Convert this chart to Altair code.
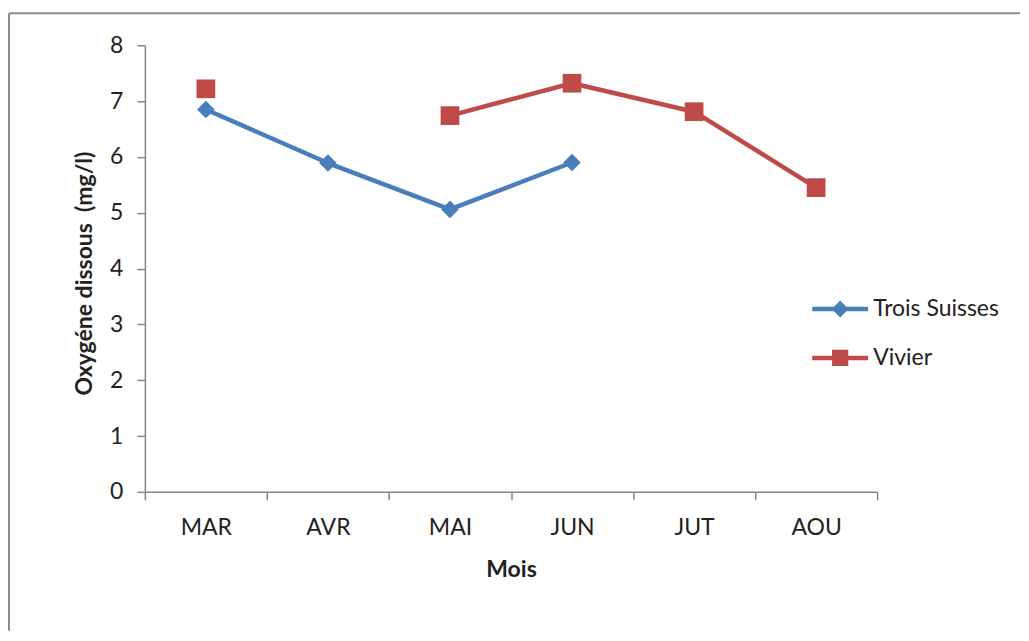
import altair as alt
import pandas as pd

months = ["MAR", "AVR", "MAI", "JUN", "JUT", "AOU"]
trois_suisses = [6.85, 5.89, 5.06, 5.90, None, None]
vivier = [7.22, None, 6.74, 7.32, 6.81, 5.45]
series_names = ["Trois Suisses", "Vivier"]
colors = ["#4A7EBB", "#BE4B48"]

rows = []
for name, vals in zip(series_names, [trois_suisses, vivier]):
    seg = 0
    prev_none = False
    for m, v in zip(months, vals):
        if v is None:
            prev_none = True
            continue
        if prev_none:
            seg += 1
            prev_none = False
        rows.append({"Mois": m, "Valeur": v, "Serie": name, "Segment": f"{name}-{seg}"})
df = pd.DataFrame(rows)

FONT = "Lato"
TXT = "#222222"
GRAY = "#868686"

leg_paths = [
    "M-1,-0.08H1V0.08H-1Z M0,-0.3L0.3,0L0,0.3L-0.3,0Z",
    "M-1,-0.08H1V0.08H-1Z M-0.29,-0.29H0.29V0.29H-0.29Z",
]

legend = alt.Legend(
    orient="none", legendX=668, legendY=236, title=None,
    labelFont=FONT, labelFontSize=23, labelColor=TXT,
    symbolSize=3136, symbolOpacity=1, symbolStrokeWidth=0,
    rowPadding=9, labelOffset=5,
)

color = alt.Color("Serie:N", scale=alt.Scale(domain=series_names, range=colors), legend=legend)

x = alt.X("Mois:N", sort=months,
          scale=alt.Scale(domain=months, paddingInner=0, paddingOuter=0),
          axis=alt.Axis(title="Mois", labelAngle=0, tickBand="extent", tickSize=8,
                        labelPadding=17, titleY=85, titleBaseline="alphabetic"))
y = alt.Y("Valeur:Q", scale=alt.Scale(domain=[0, 8], nice=False),
          axis=alt.Axis(title="Oxygéne dissous \u00a0(mg/l)", values=list(range(0, 9)),
                        tickSize=8, labelPadding=14, grid=False,
                        titleX=-53, titleY=228, titleAngle=-90,
                        titleBaseline="alphabetic", titleAlign="center"))

base = alt.Chart(df)

lines = base.mark_line(strokeWidth=4.5, strokeCap="round", strokeJoin="round").encode(
    x=x, y=y, color=color, detail="Segment:N")

pts_ts = base.transform_filter(alt.datum.Serie == "Trois Suisses").mark_point(
    shape="diamond", filled=True, size=310, opacity=1).encode(x=x, y=y, color=color)
pts_vi = base.transform_filter(alt.datum.Serie == "Vivier").mark_point(
    shape="square", filled=True, size=350, opacity=1).encode(x=x, y=y, color=color)

leg_layer = base.mark_point(filled=True, opacity=0, size=10).encode(
    x=x, y=y, color=color,
    shape=alt.Shape("Serie:N", scale=alt.Scale(domain=series_names, range=leg_paths), legend=legend))

frame_df = pd.DataFrame({"k": [0]})
top_rule = alt.Chart(frame_df).mark_rule(color="#8C8C8C", strokeWidth=2).encode(
    x=alt.value(-136), x2=alt.value(876), y=alt.value(-32))
left_rule = alt.Chart(frame_df).mark_rule(color="#8C8C8C", strokeWidth=2).encode(
    x=alt.value(-136), y=alt.value(-32), y2=alt.value(586))

chart = alt.layer(top_rule, left_rule, lines, pts_ts, pts_vi, leg_layer).properties(
    width=733, height=447,
    background="white",
    padding={"left": 0, "top": 4, "right": 0, "bottom": 0},
).configure_view(stroke=None).configure_axis(
    labelFont=FONT, labelFontSize=23, labelColor=TXT,
    titleFont=FONT, titleFontSize=23, titleFontWeight="bold", titleColor=TXT,
    domainColor=GRAY, tickColor=GRAY, domainWidth=1.5, tickWidth=1.5,
)

chart.save("out.html", embed_options={"renderer": "svg", "actions": False})
